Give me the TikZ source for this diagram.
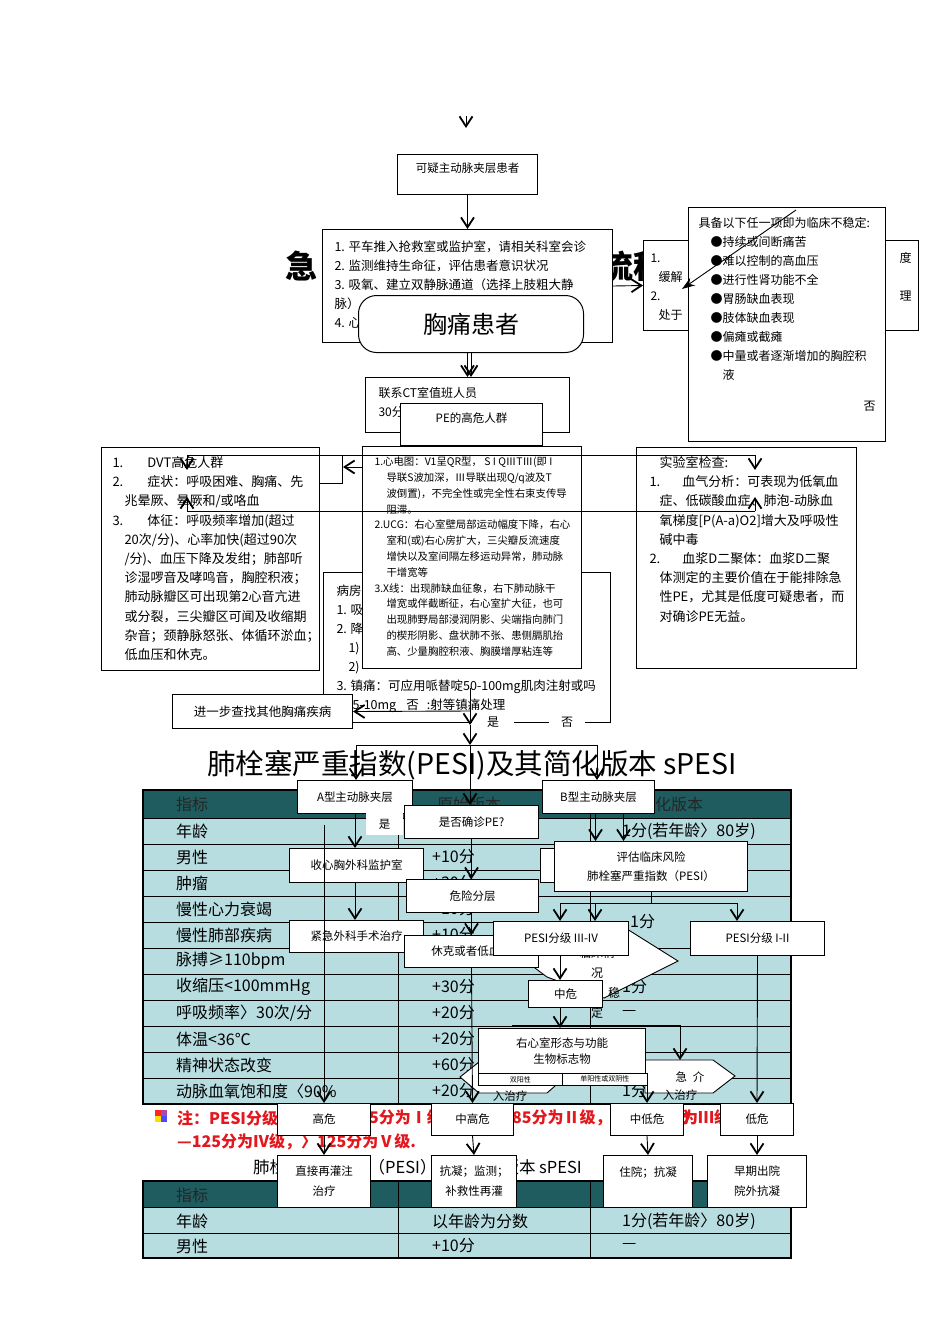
\documentclass[tikz,border=0pt]{standalone}
\usepackage{fontspec}
\setmainfont{Noto Sans CJK SC}
\usetikzlibrary{arrows.meta,calc}

\definecolor{headteal}{HTML}{1E5C60}
\definecolor{rowblue}{HTML}{B8DDE1}
\definecolor{notered}{HTML}{E3171E}

\newcommand{\fsz}[2]{\fontsize{#1}{#2}\selectfont}
\newcommand{\topbox}[4]{\parbox[t][#1][t]{#2}{\setlength{\parindent}{0pt}\vspace*{#3}#4}}

\begin{document}
\begin{tikzpicture}[x=1pt, y=-1pt,
        >={Straight Barb[length=10pt,width=13pt,line width=1.8pt]},
        box/.style={draw, fill=white, line width=1pt, anchor=north west, inner sep=0pt, align=center, font=\fsz{11.5}{20}},
        tbox/.style={draw, fill=white, line width=1pt, anchor=north west, inner ysep=0pt},
        link/.style={->, line width=0.9pt},
        wire/.style={line width=0.9pt},
        cell/.style={anchor=west, inner sep=0pt, font=\fsz{16}{18}},
        note/.style={anchor=west, inner sep=0pt, text=notered, font=\fsz{16}{24}\bfseries}]

    \useasboundingbox (0,0) rectangle (950,1344);
    \fill[white] (0,0) rectangle (950,1344);

    % upper flow
    \coordinate (lone) at (466,116);
    \coordinate (loneend) at (466,128);
    \draw[link] (lone) -- (loneend);

    \node[box, minimum width=140pt, minimum height=40pt] (suspect) at (397,154)
        {\topbox{40pt}{140pt}{8pt}{\centering 可疑主动脉夹层患者}};

    \node[font=\fsz{32}{32}\bfseries] (titleA) at (301,266) {急};
    \node[font=\fsz{32}{32}\bfseries] (titleB) at (633,266) {流程};

    \node[tbox, inner xsep=12pt, font=\fsz{12.5}{19.2}] (care) at (322,229)
        {\topbox{113pt}{266pt}{11pt}{1. 平车推入抢救室或监护室，请相关科室会诊\\2. 监测维持生命征，评估患者意识状况\\3. 吸氧、建立双静脉通道（选择上肢粗大静\\脉）\\4. 心}};

    \node[tbox, inner xsep=7pt, font=\fsz{12}{19}] (relief) at (643,240)
        {\topbox{90pt}{261pt}{12pt}{1.\hfill 度\\\hspace*{8pt}缓解\\2.\hfill 理\\\hspace*{8pt}处于}};

    \node[tbox, inner xsep=10pt, font=\fsz{12}{19}] (unstable) at (688,207)
        {\topbox{234pt}{177pt}{10pt}{具备以下任一项即为临床不稳定:\\
        \hspace*{12pt}●持续或间断痛苦\\
        \hspace*{12pt}●难以控制的高血压\\
        \hspace*{12pt}●进行性肾功能不全\\
        \hspace*{12pt}●胃肠缺血表现\\
        \hspace*{12pt}●肢体缺血表现\\
        \hspace*{12pt}●偏瘫或截瘫\\
        \hspace*{12pt}●中量或者逐渐增加的胸腔积\\
        \hspace*{24pt}液\\[12pt]
        \mbox{}\hfill 否}};

    \coordinate (dgA) at (796,210);
    \coordinate (dgB) at (682,289);
    \draw[line width=0.9pt, -{Stealth[length=13pt,width=9pt]}] (dgA) -- (dgB);

    \node[box, rounded corners=18pt, minimum width=225pt, minimum height=57pt, font=\fsz{24}{24}] (chest) at (358,295) {胸痛患者};

    \node[tbox, inner xsep=13pt, font=\fsz{12}{19}] (ct) at (365,377)
        {\topbox{55pt}{178pt}{10pt}{联系CT室值班人员\\30分}};
    \node[box, minimum width=142pt, minimum height=42pt] (hirisk) at (400,403)
        {\topbox{42pt}{142pt}{9pt}{\centering PE的高危人群}};

    \node[tbox, inner xsep=13pt, font=\fsz{12.5}{19}] (ward) at (323,572)
        {\topbox{150pt}{261pt}{12pt}{病房\\1. 吸\\2. 降\\\hspace*{12pt}1)\\\hspace*{12pt}2)\\
        3. 镇痛：可应用哌替啶50-100mg肌肉注射或吗\\
        \hspace*{16pt}5-10mg\hspace{10pt}否\hspace{8pt}:射等镇痛处理}};

    \node[tbox, inner xsep=11pt, font=\fsz{13}{19.2}] (dvt) at (101,447)
        {\topbox{223pt}{196pt}{9pt}{1.\hspace{24pt}DVT高危人群\\
        2.\hspace{24pt}症状：呼吸困难、胸痛、先\\
        \hspace*{12pt}兆晕厥、晕厥和/或咯血\\
        3.\hspace{24pt}体征：呼吸频率增加(超过\\
        \hspace*{12pt}20次/分)、心率加快(超过90次\\
        \hspace*{12pt}/分)、血压下降及发绀；肺部听\\
        \hspace*{12pt}诊湿啰音及哮鸣音，胸腔积液；\\
        \hspace*{12pt}肺动脉瓣区可出现第2心音亢进\\
        \hspace*{12pt}或分裂，三尖瓣区可闻及收缩期\\
        \hspace*{12pt}杂音；颈静脉怒张、体循环淤血；\\
        \hspace*{12pt}低血压和休克。}};

    \node[tbox, inner xsep=12pt, font=\fsz{10.4}{15.8}] (ecg) at (362,446)
        {\topbox{222pt}{195pt}{10.5pt}{1.心电图：V1呈QR型，\ S I QⅢTⅢ(即 I\\
        \hspace*{12pt}导联S波加深，Ⅲ导联出现Q/q波及T\\
        \hspace*{12pt}波倒置)，不完全性或完全性右束支传导\\
        \hspace*{12pt}阻滞。\\
        2.UCG：右心室壁局部运动幅度下降，右心\\
        \hspace*{12pt}室和(或)右心房扩大，三尖瓣反流速度\\
        \hspace*{12pt}增快以及室间隔左移运动异常，肺动脉\\
        \hspace*{12pt}干增宽等\\
        3.X线：出现肺缺血征象，右下肺动脉干\\
        \hspace*{12pt}增宽或伴截断征，右心室扩大征，也可\\
        \hspace*{12pt}出现肺野局部浸润阴影、尖端指向肺门\\
        \hspace*{12pt}的楔形阴影、盘状肺不张、患侧膈肌抬\\
        \hspace*{12pt}高、少量胸腔积液、胸膜增厚粘连等}};

    \node[tbox, inner xsep=13pt, font=\fsz{13}{19.2}] (lab) at (636,447)
        {\topbox{221pt}{194pt}{9pt}{\hspace*{10pt}实验室检查:\\
        1.\hspace{22pt}血气分析：可表现为低氧血\\
        \hspace*{10pt}症、低碳酸血症、肺泡-动脉血\\
        \hspace*{10pt}氧梯度[P(A-a)O2]增大及呼吸性\\
        \hspace*{10pt}碱中毒\\
        2.\hspace{22pt}血浆D二聚体：血浆D二聚\\
        \hspace*{10pt}体测定的主要价值在于能排除急\\
        \hspace*{10pt}性PE，尤其是低度可疑患者，而\\
        \hspace*{10pt}对确诊PE无益。}};

    \node[box, minimum width=180pt, minimum height=34pt, font=\fsz{12.5}{14}] (further) at (172,694) {进一步查找其他胸痛疾病};

    \node[fill=white, inner sep=0pt, minimum width=42pt, minimum height=12pt, font=\fsz{12}{12}] (yes1) at (493,722) {是\hspace{14pt}};
    \node[fill=white, inner sep=0pt, minimum width=36pt, minimum height=12pt, font=\fsz{12}{12}] (no1) at (567,722) {否};

    \draw[link] (suspect.south) -- (care.north);
    \draw[link] (care.east) -- (relief.west);
    \draw[link] (care.south |- chest.south) -- (care.south |- ct.north);
    \draw[link] (chest.south) -- (chest.south |- ct.north);

    \coordinate (brL) at (187,455);
    \coordinate (brR) at (755,455);
    \coordinate (brLd) at (187,470);
    \coordinate (brRd) at (755,470);
    \coordinate (hookA) at (342,455);
    \coordinate (hookB) at (342,483);
    \coordinate (lowL) at (187,511);
    \coordinate (lowR) at (755,511);
    \coordinate (lowLu) at (187,497);
    \coordinate (lowRu) at (755,497);
    \coordinate (ecgtip) at (343,467);
    \draw[wire] (brL) -- (brR);
    \draw[link] (brL) -- (brLd);
    \draw[link] (brR) -- (brRd);
    \draw[wire] (hookA) -- (hookB) -- (hookB -| dvt.east);
    \draw[wire] (lowL) -- (lowR);
    \draw[link] (lowL) -- (lowLu);
    \draw[link] (lowR) -- (lowRu);
    \draw[link] (ecgtip -| ecg.west) -- (ecgtip);

    \coordinate (wardout) at (470,688);
    \coordinate (fork) at (470,711);
    \coordinate (fork2) at (470,725);
    \coordinate (bar) at (470,745);
    \draw[wire] (wardout) -- (fork);
    \draw[link] (fork) -- (further.east);
    \draw[link] (fork) -- (fork2);
    \draw[link] (fork2) -- (bar);

    % PESI table
    \fill[headteal] (143,790) rectangle (791,818);
    \fill[rowblue] (143,818) rectangle (791,1104);
    \draw[line width=0.8pt] (143,818) -- (791,818) (143,844) -- (791,844) (143,870) -- (791,870)
        (143,896) -- (791,896) (143,922) -- (590,922) (143,948) -- (791,948) (143,974) -- (791,974)
        (143,1000) -- (791,1000) (143,1026) -- (791,1026) (143,1052) -- (791,1052) (143,1078) -- (791,1078)
        (398,790) -- (398,1104) (590,790) -- (590,1104);
    \draw[line width=2.6pt] (143,790) rectangle (791,1104);
    \node[cell, text=black!85] (ha) at (176,804) {指标};
    \node[cell, text=black!85] (hb) at (437,804) {原始版本};
    \node[cell, text=black!85] (hc) at (639,804) {简化版本};
    \foreach \lab/\orig/\simp [count=\i] in {年龄/以年龄为分数/1分(若年龄〉80岁), 男性/+10分/—, 肿瘤/+30分/1分,
        慢性心力衰竭/+10分/{}, 慢性肺部疾病/+10分/{}, 脉搏≥110bpm/+20分/1分, 收缩压<100mmHg/+30分/1分,
        {呼吸频率〉30次/分}/+20分/—, 体温<36℃/+20分/—, 精神状态改变/+60分/—, 动脉血氧饱和度〈90\%/+20分/1分} {
        \node[cell] (pa\i) at (176,{805+26*\i}) {\lab};
        \node[cell] (pb\i) at (432,{805+26*\i}) {\orig};
        \node[cell] (pc\i) at (622,{805+26*\i}) {\simp};
    }
    \node[cell] (pcm) at (630,922) {1分};

    \node[anchor=west, inner sep=0pt, font=\fsz{28.5}{30}] (ttl1) at (207,765) {肺栓塞严重指数(PESI)及其简化版本 sPESI};

    \coordinate (barL) at (356,745);
    \coordinate (barR) at (597,745);

    % note under the table
    \fill[red!85] (155,1110) rectangle (161,1116);
    \fill[blue!70] (161,1116) rectangle (167,1122);
    \fill[yellow!80!orange] (155,1116) rectangle (161,1122);
    \fill[violet!70] (161,1110) rectangle (167,1116);
    \node[note] (n1) at (177,1118) {注：PESI分级：≤6};
    \node[note] (n2) at (369,1118) {5分为Ⅰ级，66—};
    \node[note] (n3) at (512,1118) {85分为Ⅱ级，86—105分};
    \node[note] (n4) at (682,1118) {为Ⅲ级，106};
    \node[note] (n5) at (177,1142) {—125分为Ⅳ级，〉125分为Ⅴ级.};

    % second table
    \node[anchor=west, inner sep=0pt, font=\fsz{16.5}{18}] (ttl2) at (253,1167) {肺栓塞严重指数（PESI）及其简化版本 sPESI};
    \fill[headteal] (143,1181) rectangle (791,1207);
    \fill[rowblue] (143,1207) rectangle (791,1258);
    \draw[line width=0.8pt] (143,1207) -- (791,1207) (143,1233) -- (791,1233) (398,1181) -- (398,1258) (590,1181) -- (590,1258);
    \draw[line width=2.6pt] (143,1181) rectangle (791,1258);
    \node[cell, text=black!85] (qa0) at (176,1195) {指标};
    \node[cell] (qa1) at (176,1221) {年龄};
    \node[cell] (qb1) at (432,1221) {以年龄为分数};
    \node[cell] (qc1) at (622,1221) {1分(若年龄〉80岁)};
    \node[cell] (qa2) at (176,1246) {男性};
    \node[cell] (qb2) at (432,1246) {+10分};
    \node[cell] (qc2) at (622,1246) {—};

    % dissection and risk flow over the table
    \node[box, minimum width=115pt, minimum height=33pt] (typeA) at (297,780) {A型主动脉夹层};
    \node[box, minimum width=112pt, minimum height=33pt] (typeB) at (542,780) {B型主动脉夹层};
    \node[fill=white, anchor=north west, inner sep=0pt, minimum width=37pt, minimum height=22pt, font=\fsz{11.5}{12}] (yesA) at (366,813) {是};
    \node[box, minimum width=134pt, minimum height=33pt] (confirm) at (404,805) {是否确诊PE?};
    \node[box, minimum width=134pt, minimum height=34pt] (ccu) at (289,848) {收心胸外科监护室};
    \node[box, minimum width=70pt, minimum height=34pt] (stub) at (540,848) {};
    \node[box, minimum width=193pt, minimum height=50pt, font=\fsz{11.5}{19}] (assess) at (554,841) {评估临床风险\\肺栓塞严重指数（PESI）};
    \node[box, minimum width=132pt, minimum height=33pt] (strat) at (406,879) {危险分层};
    \node[box, minimum width=134pt, minimum height=32pt] (surgery) at (289,920) {紧急外科手术治疗};

    \draw[wire, fill=white] (527,962) -- (547,977) -- (604,998) -- (678,961) -- (627,929) -- (545,925) -- cycle;
    \node[font=\fsz{12}{20}, align=center] (calm) at (597,983) {临床情\\况\\\hspace*{34pt}稳\\定};

    \node[box, minimum width=134pt, minimum height=32pt] (shock) at (404,935) {休克或者低血压};
    \node[box, minimum width=135pt, minimum height=34pt] (pesiHi) at (493,921) {PESI分级 III-IV};
    \node[box, minimum width=134pt, minimum height=34pt] (pesiLo) at (690,921) {PESI分级 I-II};
    \node[box, minimum width=74pt, minimum height=27pt] (mid) at (528,980) {中危};

    \draw[wire, fill=white] (460,1077) -- (479,1062) -- (555,1062) -- (555,1086) -- (547,1093) -- (479,1093) -- cycle;
    \draw[wire, fill=white] (645,1060) -- (713,1060) -- (735,1076) -- (713,1093) -- (645,1093) -- cycle;
    \node[font=\fsz{11.5}{12}] (lptxt) at (510,1096) {入治疗};
    \node[font=\fsz{11.5}{12}] (rptxt) at (690,1077) {急\hspace{6pt}介};
    \node[font=\fsz{11.5}{12}] (rptxtb) at (680,1095) {入治疗};

    \node[box, minimum width=167pt, minimum height=45pt, font=\fsz{11.5}{16}] (rv) at (478,1028) {右心室形态与功能\\生物标志物};
    \node[box, line width=0.7pt, minimum width=84pt, minimum height=12pt, font=\fsz{7}{8}] (dualpos) at (478,1073) {双阳性};
    \node[box, line width=0.7pt, minimum width=85pt, minimum height=12pt, font=\fsz{7}{8}] (singpos) at (562,1073) {单阳性或双阴性};

    \node[box, minimum width=93pt, minimum height=32pt] (hi) at (277,1103) {高危};
    \node[box, minimum width=82pt, minimum height=32pt] (midhi) at (431,1103) {中高危};
    \node[box, minimum width=73pt, minimum height=32pt] (midlo) at (610,1103) {中低危};
    \node[box, minimum width=73pt, minimum height=32pt] (lo) at (720,1103) {低危};
    \node[box, minimum width=93pt, minimum height=52pt] (reperf) at (277,1155) {直接再灌注\\治疗};
    \node[box, minimum width=85pt, minimum height=52pt] (anticoag) at (431,1155) {抗凝；监测；\\补救性再灌};
    \node[box, minimum width=89pt, minimum height=52pt] (inpat) at (603,1155) {住院；抗凝\\\mbox{}};
    \node[box, minimum width=99pt, minimum height=52pt] (early) at (707,1155) {早期出院\\院外抗凝};

    \draw[wire] (barL) -- (barR);
    \draw[link] (barL) -- (barL |- typeA.north);
    \draw[link] (barR) -- (barR |- typeB.north);
    \draw[link] (bar) -- (bar |- confirm.north);
    \draw[link] (typeA.south) -- (typeA.south |- ccu.north);
    \draw[link] (typeA.south |- ccu.south) -- (typeA.south |- surgery.north);
    \draw[link] (confirm.south) -- (confirm.south |- strat.north);
    \draw[link] (confirm.south |- strat.south) -- (confirm.south |- shock.north);
    \draw[link] ([xshift=-3pt]typeB.south) -- ([xshift=-3pt]typeB.south |- assess.north);
    \draw[link] ([xshift=25pt]typeB.south) -- ([xshift=25pt]typeB.south |- assess.north);

    \coordinate (splitL) at (560,903);
    \coordinate (splitM) at (595,903);
    \coordinate (splitR) at (737,903);
    \draw[wire] (assess.south) -- (assess.south |- splitL);
    \draw[wire] (splitL) -- (splitR);
    \draw[link] (splitL) -- (splitL |- pesiHi.north);
    \draw[link] (splitM) -- (splitM |- pesiHi.north);
    \draw[link] (splitR) -- (splitR |- pesiLo.north);
    \draw[link] (splitL |- pesiHi.south) -- (splitL |- mid.north);
    \draw[link] (splitL |- mid.south) -- (splitL |- rv.north);

    \coordinate (rvL) at (512,1025);
    \coordinate (rvR) at (680,1025);
    \coordinate (rpTop) at (680,1060);
    \draw[wire] (rvL) -- (rvR);
    \draw[link] (rvR) -- (rpTop);

    \coordinate (hiTop) at (324,825);
    \draw[link] (hiTop) -- (hiTop |- hi.north);
    \draw[link] (shock.south) -- (midhi.north);
    \draw[link] (midlo.north |- singpos.south) -- (midlo.north);
    \draw[link] (pesiLo.south) -- (lo.north);

    \draw[link] (hi.south) -- (reperf.north);
    \draw[link] (midhi.south) -- (anticoag.north);
    \draw[link] (midlo.south) -- (inpat.north);
    \draw[link] (lo.south) -- (early.north);
\end{tikzpicture}
\end{document}
